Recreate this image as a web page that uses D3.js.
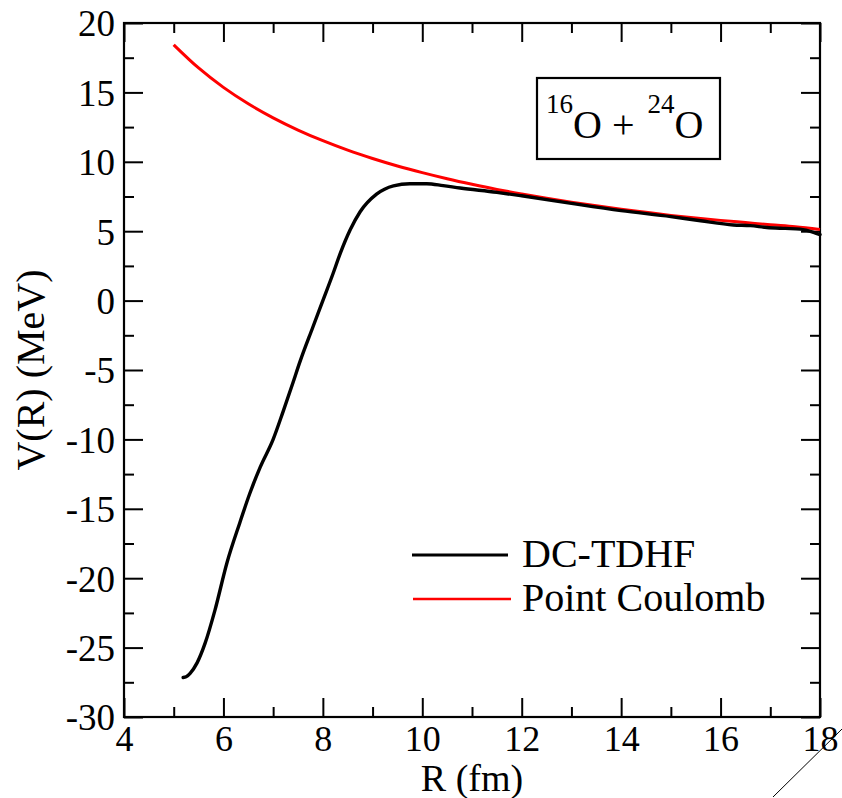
<!DOCTYPE html>
<html>
<head>
<meta charset="utf-8">
<script src="https://cdn.jsdelivr.net/npm/d3@7"></script>
<style>
  html, body { margin: 0; padding: 0; background: #fff; }
  svg { display: block; }
  text { font-family: "Liberation Serif", "DejaVu Serif", serif; fill: #000; }
</style>
</head>
<body>
<svg id="chart" width="842" height="798"></svg>
<script>
// ---- data ----
const xMajorTicks = [4, 6, 8, 10, 12, 14, 16, 18];
const xMinorTicks = [5, 7, 9, 11, 13, 15, 17];
const yMajorTicks = [-30, -25, -20, -15, -10, -5, 0, 5, 10, 15, 20];
const yMinorTicks = [-27.5, -22.5, -17.5, -12.5, -7.5, -2.5, 2.5, 7.5, 12.5, 17.5];

const dcR = [5.19, 5.25, 5.33, 5.47, 5.63, 5.83, 6.07, 6.33, 6.53, 6.74, 7.0, 7.2, 7.4, 7.54, 7.8, 8.0, 8.2, 8.35, 8.55, 8.75, 9.08, 9.42, 9.75, 10.09, 10.42, 10.76, 11.5, 12.0, 13.0, 14.0, 15.0, 15.6, 16.26, 16.6, 16.93, 17.3, 17.6, 17.87, 18.0];
const dcV = [-27.15, -27.1, -26.85, -26.1, -24.7, -22.3, -18.9, -16.0, -13.9, -12.0, -10.0, -8.0, -5.9, -4.4, -1.9, 0.0, 1.9, 3.4, 5.1, 6.4, 7.67, 8.27, 8.42, 8.42, 8.28, 8.11, 7.8, 7.55, 7.0, 6.48, 6.05, 5.75, 5.45, 5.4, 5.27, 5.2, 5.15, 4.92, 4.75];

const pcR = [5.0, 5.5, 6.0, 6.5, 7.0, 7.5, 8.0, 8.5, 9.0, 9.5, 10.0, 10.5, 11.0, 11.5, 12.0, 12.5, 13.0, 13.5, 14.0, 14.5, 15.0, 15.5, 16.0, 16.5, 17.0, 17.5, 18.0];
const pcV = [18.43, 16.76, 15.36, 14.18, 13.17, 12.29, 11.52, 10.84, 10.24, 9.70, 9.22, 8.78, 8.38, 8.01, 7.68, 7.37, 7.09, 6.83, 6.58, 6.36, 6.14, 5.95, 5.78, 5.62, 5.46, 5.32, 5.12];

const seriesNames = ["DC-TDHF", "Point Coulomb"];
const seriesColors = ["#000000", "#ff0000"];

// ---- layout ----
const svg = d3.select("#chart");
const L = 124, R = 820, T = 23, B = 717;
const x = d3.scaleLinear().domain([4, 18]).range([L, R]);
const y = d3.scaleLinear().domain([-30, 20]).range([B, T]);

const majorLen = 19, minorLen = 10;
const g = svg.append("g");

function drawAxis(axisGen, tx, ty, values, len, labels) {
  const a = g.append("g").attr("transform", `translate(${tx},${ty})`)
    .call(axisGen.tickValues(values).tickSize(len).tickSizeOuter(0)
      .tickFormat(labels ? (d => String(d)) : () => ""));
  a.select(".domain").remove();
  a.selectAll(".tick line").attr("stroke", "#000").attr("stroke-width", 2);
  return a;
}

// inward ticks
drawAxis(d3.axisBottom(x), 0, B, xMinorTicks, -minorLen, false);
const xa = drawAxis(d3.axisBottom(x), 0, B, xMajorTicks, -majorLen, true);
xa.selectAll(".tick text").attr("y", 34).attr("dy", 0)
  .style("font-size", "36px").style("font-family", "'Liberation Serif', serif");

drawAxis(d3.axisTop(x), 0, T, xMinorTicks, -minorLen, false);
drawAxis(d3.axisTop(x), 0, T, xMajorTicks, -majorLen, false);

drawAxis(d3.axisLeft(y), L, 0, yMinorTicks, -minorLen, false);
const ya = drawAxis(d3.axisLeft(y), L, 0, yMajorTicks, -majorLen, true);
ya.selectAll(".tick text").attr("x", -9).attr("dy", "0.35em")
  .style("font-size", "37px").style("font-family", "'Liberation Serif', serif");

drawAxis(d3.axisRight(y), R, 0, yMinorTicks, -minorLen, false);
drawAxis(d3.axisRight(y), R, 0, yMajorTicks, -majorLen, false);

// frame
g.append("rect").attr("x", L).attr("y", T).attr("width", R - L).attr("height", B - T)
  .attr("fill", "none").attr("stroke", "#000").attr("stroke-width", 2.2);

// curves
const line = d3.line().x(d => x(d[0])).y(d => y(d[1])).curve(d3.curveMonotoneX);
const pcData = pcR.map((r, i) => [r, pcV[i]]);
const dcData = dcR.map((r, i) => [r, dcV[i]]);

g.append("path").datum(pcData).attr("d", line)
  .attr("fill", "none").attr("stroke", seriesColors[1]).attr("stroke-width", 3);
g.append("path").datum(dcData).attr("d", line)
  .attr("fill", "none").attr("stroke", seriesColors[0]).attr("stroke-width", 3.4)
  .attr("stroke-linecap", "round");

// axis labels
svg.append("text").attr("x", (L + R) / 2).attr("y", 791)
  .attr("text-anchor", "middle").style("font-size", "38px").text("R (fm)");
svg.append("text").attr("transform", `translate(44,${(T + B) / 2}) rotate(-90)`)
  .attr("text-anchor", "middle").style("font-size", "40px").text("V(R) (MeV)");

// title box
svg.append("rect").attr("x", 537).attr("y", 78).attr("width", 183).attr("height", 81)
  .attr("fill", "#fff").attr("stroke", "#000").attr("stroke-width", 2.2);
const tt = svg.append("text").attr("x", 546).attr("y", 138);
tt.append("tspan").attr("y", 113).style("font-size", "27px").text("16");
tt.append("tspan").attr("y", 138).style("font-size", "40px").text("O + ");
tt.append("tspan").attr("y", 113).style("font-size", "27px").attr("dx", 3).text("24");
tt.append("tspan").attr("y", 138).style("font-size", "40px").text("O");

// legend
const legY = [555, 599];
const legX1 = [412, 413], legX2 = [508, 511];
seriesNames.forEach((name, i) => {
  svg.append("line").attr("x1", legX1[i]).attr("x2", legX2[i])
    .attr("y1", legY[i]).attr("y2", legY[i])
    .attr("stroke", seriesColors[i]).attr("stroke-width", i === 0 ? 3.2 : 2.6);
  svg.append("text").attr("x", 522).attr("y", legY[i] + 12)
    .style("font-size", "40px").text(name);
});

// stray diagonal stroke at bottom-right corner
svg.append("line").attr("x1", 773).attr("y1", 797).attr("x2", 842).attr("y2", 729)
  .attr("stroke", "#000").attr("stroke-width", 1);
</script>
</body>
</html>
